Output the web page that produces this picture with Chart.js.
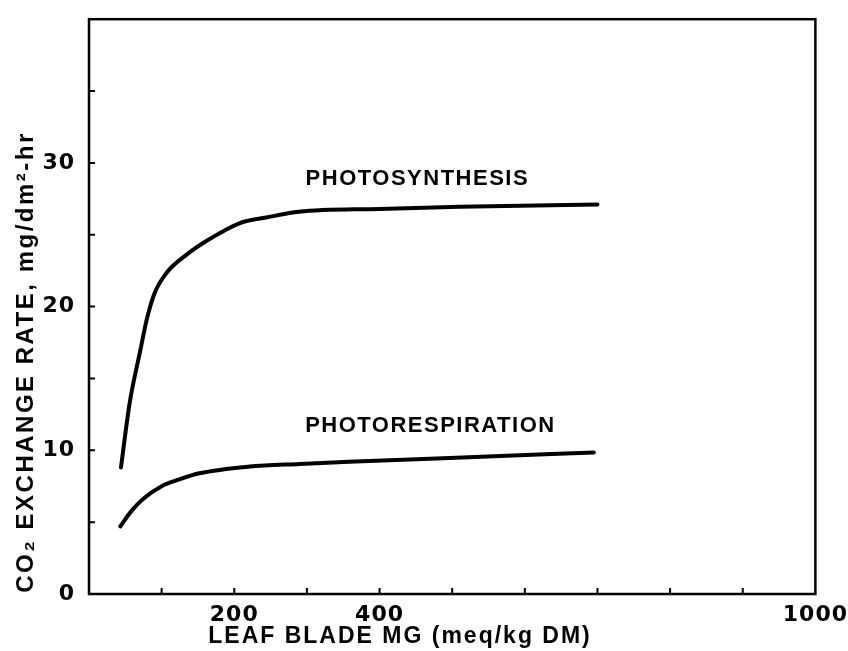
<!DOCTYPE html>
<html>
<head>
<meta charset="utf-8">
<script src="https://cdn.jsdelivr.net/npm/chart.js@4"></script>
<style>
  html, body { margin: 0; padding: 0; background: #fff; }
  #wrap { width: 848px; height: 651px; }
</style>
</head>
<body>
<div id="wrap"><canvas id="chart" width="848" height="651"></canvas></div>
<script>
// values
const photoX = [44, 56, 70, 80, 90, 106, 134, 166, 207, 244, 289, 400, 510, 700];
const photoY = [8.8, 13.3, 16.8, 19.2, 20.9, 22.3, 23.6, 24.7, 25.8, 26.2, 26.6, 26.8, 26.95, 27.1];
const respX = [43, 58, 74, 100, 120, 152, 221, 290, 358, 514, 695];
const respY = [4.7, 5.75, 6.6, 7.5, 7.9, 8.4, 8.87, 9.05, 9.2, 9.5, 9.85];

const xTickLabels = [200, 400, 1000];
const yTickLabels = [0, 10, 20, 30];
const curveNames = ['PHOTOSYNTHESIS', 'PHOTORESPIRATION'];
const curveNameAt = [[452, 28.9], [470, 11.7]];
const xTitle = 'LEAF BLADE MG (meq/kg DM)';
const yTitle = 'CO₂ EXCHANGE RATE, mg/dm²-hr';

const FONT = '"Liberation Sans", Arial, sans-serif';
const TICK_FONT = '"DejaVu Sans", sans-serif';

function toPoints(xs, ys) {
    return xs.map((x, i) => ({ x: x, y: ys[i] }));
}

const figureDecor = {
    id: 'figureDecor',
    beforeLayout(chart) { chart.ctx.letterSpacing = '1px'; },
    beforeDraw(chart) { chart.ctx.letterSpacing = '1px'; },
    afterDraw(chart) {
        const ctx = chart.ctx;
        const a = chart.chartArea;
        const x = chart.scales.x, y = chart.scales.y;
        ctx.save();
        ctx.strokeStyle = '#000';
        ctx.lineWidth = 2;
        ctx.beginPath();
        // tick marks point into the plot
        x.ticks.forEach(t => {
            if (t.value > 0 && t.value < 1000) {
                const px = x.getPixelForValue(t.value);
                ctx.moveTo(px, a.bottom);
                ctx.lineTo(px, a.bottom - 6);
            }
        });
        y.ticks.forEach(t => {
            if (t.value > 0 && t.value < 40) {
                const py = y.getPixelForValue(t.value);
                ctx.moveTo(a.left, py);
                ctx.lineTo(a.left + 6, py);
            }
        });
        ctx.stroke();
        ctx.lineWidth = 2.5;
        ctx.strokeRect(a.left, a.top, a.right - a.left, a.bottom - a.top);

        ctx.fillStyle = '#000';
        ctx.letterSpacing = '1.5px';
        ctx.font = 'bold 22px ' + FONT;
        ctx.textAlign = 'center';
        ctx.textBaseline = 'middle';
        curveNames.forEach((name, i) => {
            ctx.fillText(name, x.getPixelForValue(curveNameAt[i][0]), y.getPixelForValue(curveNameAt[i][1]));
        });

        ctx.letterSpacing = '2px';
        ctx.font = 'bold 23px ' + FONT;
        ctx.fillText(xTitle, 400, 637);
        ctx.letterSpacing = '2.5px';
        ctx.font = 'bold 24px ' + FONT;
        ctx.translate(26, 362);
        ctx.rotate(-Math.PI / 2);
        ctx.fillText(yTitle, 0, 0);
        ctx.restore();
    }
};

const ctx = document.getElementById('chart').getContext('2d');

const chart = new Chart(ctx, {
    type: 'line',
    data: {
        datasets: [
            {
                label: 'Photosynthesis',
                data: toPoints(photoX, photoY),
                borderColor: '#000',
                borderWidth: 4,
                borderCapStyle: 'round',
                pointRadius: 0,
                fill: false,
                cubicInterpolationMode: 'monotone'
            },
            {
                label: 'Photorespiration',
                data: toPoints(respX, respY),
                borderColor: '#000',
                borderWidth: 4,
                borderCapStyle: 'round',
                pointRadius: 0,
                fill: false,
                cubicInterpolationMode: 'monotone'
            }
        ]
    },
    options: {
        responsive: false,
        animation: false,
        devicePixelRatio: 1,
        layout: { padding: { left: 0, right: 31, top: 10, bottom: 0 } },
        plugins: { legend: { display: false }, tooltip: { enabled: false } },
        scales: {
            x: {
                type: 'linear',
                min: 0,
                max: 1000,
                afterFit: s => { s.height = 57; },
                grid: { display: false },
                border: { display: false },
                ticks: {
                    stepSize: 100,
                    autoSkip: false,
                    maxRotation: 0,
                    padding: 0,
                    color: '#000',
                    font: { family: TICK_FONT, size: 22, weight: 'bold' },
                    callback: v => xTickLabels.includes(v) ? String(v) : ''
                }
            },
            y: {
                type: 'linear',
                min: 0,
                max: 40,
                afterFit: s => { s.width = 89; },
                grid: { display: false },
                border: { display: false },
                ticks: {
                    stepSize: 5,
                    autoSkip: false,
                    padding: 6,
                    color: '#000',
                    font: { family: TICK_FONT, size: 22, weight: 'bold' },
                    callback: v => yTickLabels.includes(v) ? String(v) : ''
                }
            }
        }
    },
    plugins: [figureDecor]
});
</script>
</body>
</html>
